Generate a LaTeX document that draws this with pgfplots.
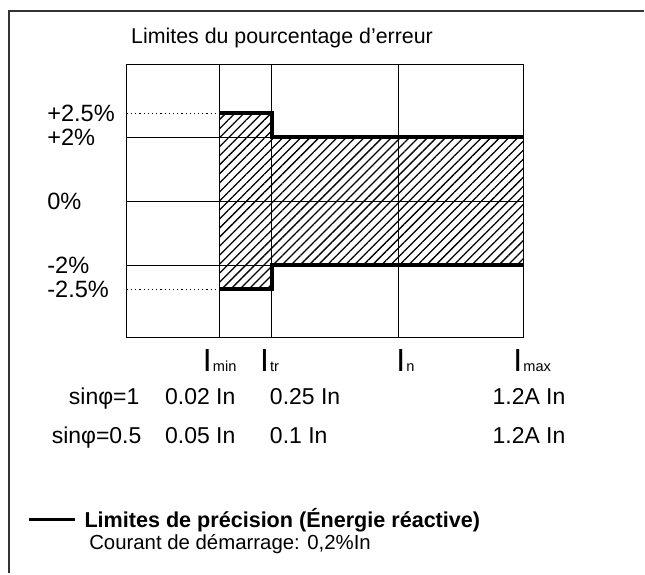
\documentclass[border=0pt]{standalone}
\usepackage{fontspec}
\setmainfont{Liberation Sans}
\usepackage{pgfplots}
\pgfplotsset{compat=1.18}
\usetikzlibrary{patterns.meta}
\newcommand\Isub[1]{{\fontsize{16}{18}\selectfont I}\kern0.6pt{\fontsize{7.3}{8}\selectfont #1}}
\newcommand\rowfont{\fontsize{11.5}{14}\selectfont}
\newcommand\labfont{\fontsize{11.8}{14}\selectfont}
\begin{document}
\fontsize{10.7}{12.8}\selectfont
\begin{tikzpicture}
\begin{scope}[shift={(-63.5pt,169pt)}, x=0.5pt, y=-0.5pt]
\useasboundingbox (0,0) rectangle (645,574);
\end{scope}
\begin{axis}[
  scale only axis, width=198.5pt, height=136.5pt,
  xmin=0, xmax=3.97, ymin=-3.5, ymax=3.5,
  y coord trafo/.code={\pgfmathparse{(#1>2)?(2+(#1-2)*1.5):((#1<-2)?(-2+(#1+2)*1.5):(#1))}},
  y coord inv trafo/.code={\pgfmathparse{(#1>2)?(2+(#1-2)/1.5):((#1<-2)?(-2+(#1+2)/1.5):(#1))}},
  axis line style={line width=0.5pt},
  xtick={0.93,1.45,2.72,3.97},
  xticklabels={\Isub{min},\Isub{tr}\kern2pt,\kern7pt\Isub{n},\kern9pt\Isub{max}},
  xticklabel style={anchor=north, inner sep=0pt, yshift=-6pt},
  xmajorgrids, ymajorgrids, grid style={line width=0.5pt, black},
  major tick length=0pt,
  ytick={-2,0,2}, yticklabels={-2\%,0\%,+2\%},
  extra y ticks={-2.5,2.5}, extra y tick labels={-2.5\%,+2.5\%},
  extra y tick style={grid=none},
  yticklabel style={anchor=west, inner sep=0pt, xshift=-40pt, font=\labfont},
  title={Limites du pourcentage d’erreur},
  title style={at={(0.01,1.033)}, anchor=base west, inner sep=0pt},
  legend style={at={(-0.252,-0.667)}, anchor=west, draw=none, fill=none, inner sep=0pt, font=\fontsize{10.8}{13}\selectfont\bfseries},
  legend image code/.code={\draw[line width=1.35pt] (0pt,0pt) -- (23pt,0pt); \path (25pt,0pt);},
]
\addplot[draw=none, pattern={Lines[angle=45, distance=3.2pt, line width=0.65pt]}, forget plot]
  coordinates {(0.93,2.5) (1.45,2.5) (1.45,2) (3.97,2) (3.97,-2) (1.45,-2) (1.45,-2.5) (0.93,-2.5)};
\addplot[line width=2pt, black, line join=miter] coordinates {(0.93,2.5) (1.45,2.5) (1.45,2) (3.97,2)};
\addlegendentry{Limites de précision (Énergie réactive)}
\addplot[line width=2pt, black, line join=miter, forget plot] coordinates {(0.93,-2.5) (1.45,-2.5) (1.45,-2) (3.97,-2)};
\draw[line width=0.5pt, dash pattern=on 0.6pt off 1.5pt] (axis cs:0,2.5) -- (axis cs:0.93,2.5);
\draw[line width=0.5pt, dash pattern=on 0.6pt off 1.5pt] (axis cs:0,-2.5) -- (axis cs:0.93,-2.5);
\end{axis}
\begin{scope}[shift={(-63.5pt,169pt)}, x=0.5pt, y=-0.5pt]
\draw[line width=1pt, black!80] (9.5,574) -- (9.5,11) -- (645,11);
\tikzset{every node/.style={inner sep=0pt, font=\rowfont}}
\node[anchor=base east] at (140,405) {sinφ=1};
\node[anchor=base west] at (165,405) {0.02 In};
\node[anchor=base west] at (270,405) {0.25 In};
\node[anchor=base west] at (493,405) {1.2A In};
\node[anchor=base east] at (142,444) {sinφ=0.5};
\node[anchor=base west] at (165,444) {0.05 In};
\node[anchor=base west] at (270,444) {0.1 In};
\node[anchor=base west] at (493,444) {1.2A In};
\node[anchor=base west, font=\fontsize{10.2}{12}\selectfont] at (89,550) {Courant de démarrage: 0,2\%In};
\end{scope}
\end{tikzpicture}
\end{document}
